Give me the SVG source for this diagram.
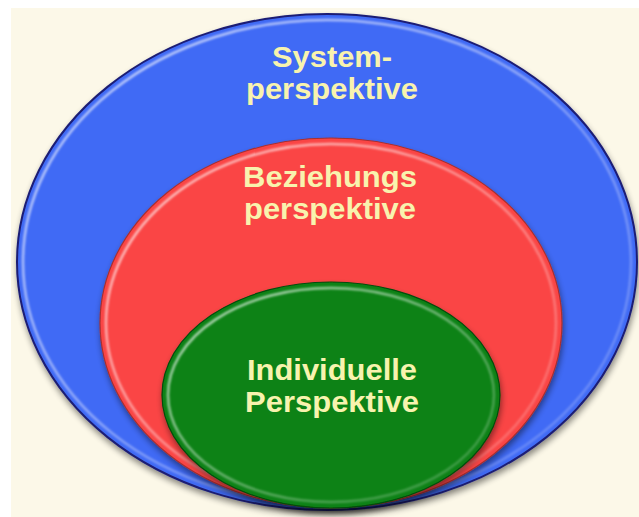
<svg xmlns="http://www.w3.org/2000/svg" width="639" height="517" viewBox="0 0 639 517">
  <defs>
    <filter id="shadow" x="-10%" y="-10%" width="120%" height="125%">
      <feGaussianBlur in="SourceAlpha" stdDeviation="3"/>
      <feOffset dx="1" dy="4" result="b"/>
      <feComponentTransfer><feFuncA type="linear" slope="0.45"/></feComponentTransfer>
      <feMerge><feMergeNode/><feMergeNode in="SourceGraphic"/></feMerge>
    </filter>
    <filter id="soft" x="-5%" y="-5%" width="110%" height="110%">
      <feGaussianBlur stdDeviation="0.8"/>
    </filter>
    <linearGradient id="rim" x1="0" y1="0" x2="1" y2="1">
      <stop offset="0" stop-color="#fff" stop-opacity="0.75"/>
      <stop offset="0.55" stop-color="#fff" stop-opacity="0.35"/>
      <stop offset="1" stop-color="#fff" stop-opacity="0.15"/>
    </linearGradient>
    <style>
      .lbl { font-family: "Liberation Sans", Arial, sans-serif; font-weight: bold; font-size: 28.6px; fill: #F8F3AE; text-anchor: middle; }
      .rim { fill: none; stroke: url(#rim); stroke-width: 2.5; filter: url(#soft); }
    </style>
  </defs>

  <rect x="0" y="0" width="639" height="517" fill="#FCF8E8"/>
  <rect x="0" y="0" width="639" height="8" fill="#FFFFFF"/>
  <rect x="0" y="0" width="11" height="517" fill="#FFFFFF"/>

  <g id="connectors"/>

  <g id="system">
    <ellipse cx="327" cy="262" rx="310" ry="248" fill="#406AF5" stroke="#1C1F74" stroke-width="2" filter="url(#shadow)"/>
    <ellipse class="rim" cx="327" cy="262" rx="304" ry="242"/>
    <text class="lbl"><tspan x="332" y="67" textLength="120" lengthAdjust="spacingAndGlyphs">System-</tspan><tspan x="332" dy="32" textLength="172" lengthAdjust="spacingAndGlyphs">perspektive</tspan></text>
  </g>

  <g id="beziehung">
    <ellipse cx="331" cy="323" rx="231" ry="185" fill="#FA4545" stroke="#A83030" stroke-width="1.2" filter="url(#shadow)"/>
    <ellipse class="rim" cx="331" cy="323" rx="225" ry="179"/>
    <text class="lbl"><tspan x="330" y="187" textLength="174" lengthAdjust="spacingAndGlyphs">Beziehungs</tspan><tspan x="330" dy="32" textLength="172" lengthAdjust="spacingAndGlyphs">perspektive</tspan></text>
  </g>

  <g id="individuell">
    <ellipse cx="331" cy="395" rx="169" ry="113" fill="#0A8214" stroke="#064E0C" stroke-width="1.2" filter="url(#shadow)"/>
    <ellipse class="rim" cx="331" cy="395" rx="163" ry="107"/>
    <text class="lbl"><tspan x="332" y="380" textLength="170" lengthAdjust="spacingAndGlyphs">Individuelle</tspan><tspan x="332" dy="32" textLength="174" lengthAdjust="spacingAndGlyphs">Perspektive</tspan></text>
  </g>
</svg>
